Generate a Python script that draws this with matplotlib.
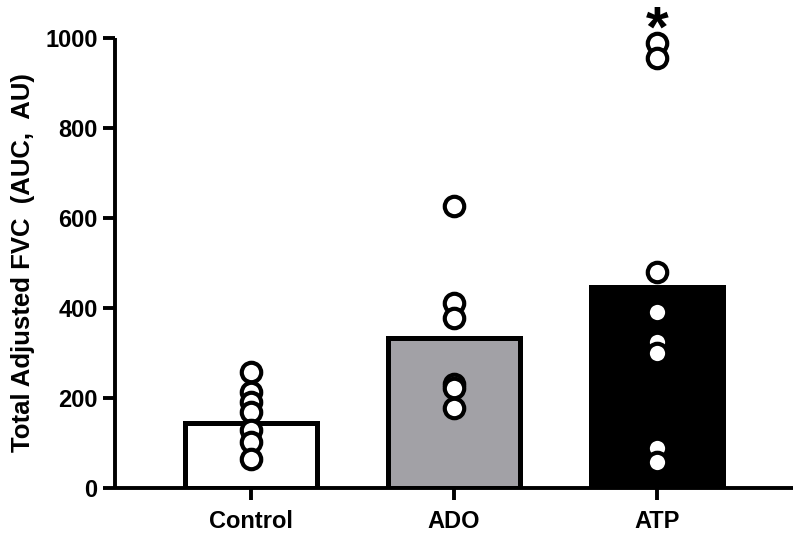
import matplotlib
matplotlib.use("Agg")
import matplotlib.pyplot as plt

categories = ["Control", "ADO", "ATP"]
bar_means = [144, 333, 446]
bar_colors = ["white", "#a2a1a6", "black"]
control_pts = [258, 213, 190, 168, 128, 103, 64]
ado_pts = [626, 410, 377, 232, 222, 177]
atp_pts = [987, 954, 480, 391, 325, 299, 88, 58]
points = [control_pts, ado_pts, atp_pts]
yticks = [0, 200, 400, 600, 800, 1000]
star_value = 1055

plt.rcParams['font.family'] = ['Liberation Sans', 'DejaVu Sans']

fig = plt.figure(figsize=(8, 5.33), dpi=100)
ax = fig.add_axes([0.14375, 0.0844, 0.8475, 0.8452])

x = list(range(len(categories)))
ax.bar(x, bar_means, width=0.655, color=bar_colors, edgecolor="black",
       linewidth=3.6, zorder=2)

for i, pts in enumerate(points):
    ax.plot([i] * len(pts), pts, linestyle="none", marker="o", markersize=14,
            markerfacecolor="white", markeredgecolor="black",
            markeredgewidth=3.0, zorder=3, clip_on=False)

star_size = 42
ax.annotate("*", xy=(2, star_value), xytext=(0, -0.58 * star_size),
            textcoords="offset points", ha="center", va="baseline",
            fontsize=star_size, fontweight="bold", annotation_clip=False)

ax.set_xlim(-0.67, 2.67)
ax.set_ylim(0, 1000)
ax.set_xticks(x)
ax.set_xticklabels(categories, fontsize=17, fontweight="bold")
ax.set_yticks(yticks)
ax.set_yticklabels([str(v) for v in yticks], fontsize=17, fontweight="bold")

for s in ["top", "right"]:
    ax.spines[s].set_visible(False)
for s in ["left", "bottom"]:
    ax.spines[s].set_linewidth(2.8)
    ax.spines[s].set_capstyle("butt")

ax.tick_params(axis="y", length=8.5, width=2.8, pad=4)
ax.tick_params(axis="x", length=8.5, width=2.8, pad=7)

ax.set_ylabel("Total Adjusted FVC  (AUC,  AU)", fontsize=18.5, fontweight="bold",
              labelpad=7)

fig.savefig("out.png", dpi=100)
